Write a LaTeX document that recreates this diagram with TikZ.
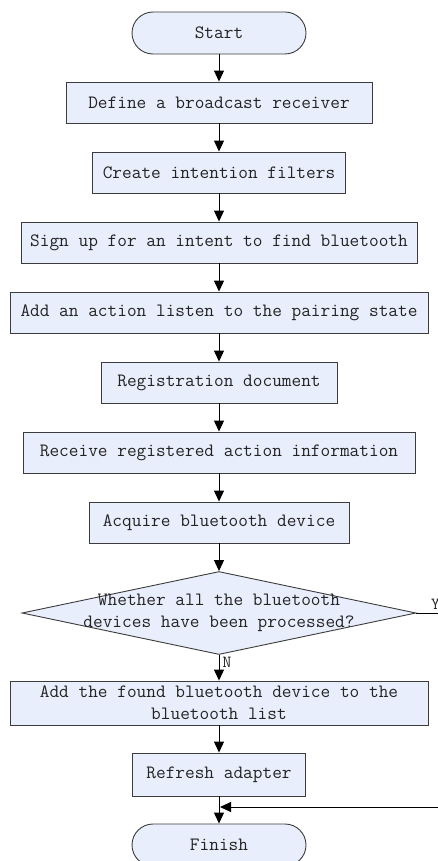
\documentclass[tikz,border=0pt]{standalone}
\usepackage{fontspec}
\usetikzlibrary{shapes.geometric,arrows.meta}
\definecolor{boxfill}{RGB}{232,238,251}
\definecolor{boxline}{RGB}{60,60,60}
\definecolor{txt}{RGB}{35,35,35}
\begin{document}
\begin{tikzpicture}[x=1pt,y=-1pt,
  base/.style={draw=boxline, fill=boxfill, line width=0.9pt, text=txt,
    font=\ttfamily\fontsize{18.8}{22}\selectfont, inner sep=0pt, align=center},
  proc/.style={base, rectangle, minimum height=41pt},
  term/.style={base, rectangle, rounded corners=21pt, minimum width=174pt, minimum height=42pt},
  dec/.style={base, diamond, minimum width=394pt, minimum height=83pt},
  dectext/.style={text=txt, font=\ttfamily\fontsize{18.8}{22}\selectfont, inner sep=0pt, align=center},
  flow/.style={draw=black, line width=1pt, -{Triangle[length=11pt,width=10pt]}},
  lbl/.style={text=txt, font=\ttfamily\fontsize{17}{18}\selectfont, inner sep=0pt}
]
\useasboundingbox (0,0) rectangle (438,861);
\node[term] (start) at (219,33) {Start};
\node[proc, minimum width=306pt] (b1) at (219,102.5) {Define a broadcast receiver};
\node[proc, minimum width=253pt] (b2) at (219,172.5) {Create intention filters};
\node[proc, minimum width=396pt] (b3) at (219,242.5) {Sign up for an intent to find bluetooth};
\node[proc, minimum width=418pt] (b4) at (219,312.5) {Add an action listen to the pairing state};
\node[proc, minimum width=236pt] (b5) at (219,382.5) {Registration document};
\node[proc, minimum width=392pt] (b6) at (219,452.5) {Receive registered action information};
\node[proc, minimum width=260pt] (b7) at (219,522.5) {Acquire bluetooth device};
\node[dec] (d) at (219,613) {};
\node[dectext] (dt) at (219,613) {Whether all the bluetooth\\devices have been processed?};
\node[proc, minimum width=418pt, minimum height=44pt] (b8) at (219,703) {Add the found bluetooth device to the\\bluetooth list};
\node[proc, minimum width=173pt, minimum height=43pt] (b9) at (219,774.5) {Refresh adapter};
\node[term] (fin) at (219,845) {Finish};
\coordinate (j) at (220,807);
\coordinate (yr) at (470,613);

\draw[flow] (start) -- (b1);
\draw[flow] (b1) -- (b2);
\draw[flow] (b2) -- (b3);
\draw[flow] (b3) -- (b4);
\draw[flow] (b4) -- (b5);
\draw[flow] (b5) -- (b6);
\draw[flow] (b6) -- (b7);
\draw[flow] (b7) -- (d.north);
\draw[flow] (d.south) -- node[lbl, anchor=west, pos=0.3, xshift=3pt] (nlab) {N} (b8.north);
\draw[flow] (b8) -- (b9);
\draw[flow] (b9) -- (fin);
\node[lbl, anchor=west] (ylab) at (431,604) {Y};
\draw[flow] (d.east) -- (yr) |- (j);
\end{tikzpicture}
\end{document}
